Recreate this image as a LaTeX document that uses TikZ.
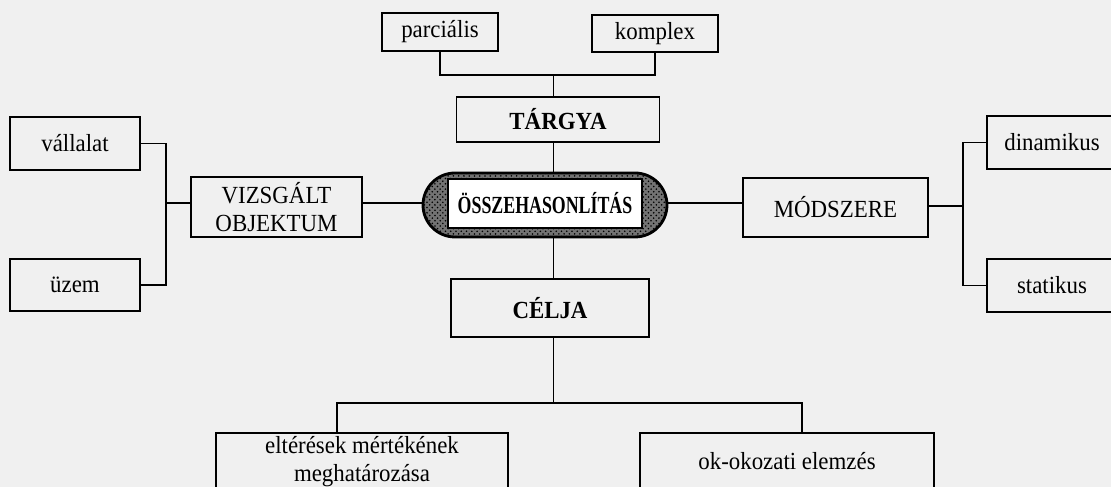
\documentclass[tikz,border=0pt]{standalone}
\usepackage{fontspec, graphicx}
\setmainfont{Liberation Serif}[FakeStretch=0.93]
\usetikzlibrary{patterns}
\definecolor{paper}{RGB}{240,240,240}

\begin{document}
\begin{tikzpicture}
        [line width=0.8pt, every node/.style={draw,shape=rectangle,inner sep=0,align=center,font=\fontsize{14}{15.5}\selectfont},
         pillbox/.style={line width=1.6pt,rounded corners=0.64cm,preaction={fill=black!55},pattern=crosshatch dots}]

        \useasboundingbox (0, 0) rectangle (22.22, 9.74);
        \fill[paper] (0, 0) rectangle (22.22, 9.74);

        \node[minimum width=2.32cm, minimum height=0.76cm] (parcialis) at (8.8, 9.1) {parciális};
        \node[minimum width=2.52cm, minimum height=0.74cm] (komplex) at (13.1, 9.07) {komplex};
        \node[minimum width=4.06cm, minimum height=0.9cm] (targya) at (11.16, 7.35) {\textbf{TÁRGYA}};
        \node[minimum width=2.6cm, minimum height=1.06cm] (vallalat) at (1.5, 6.87) {vállalat};
        \node[minimum width=2.6cm, minimum height=1.04cm] (uzem) at (1.5, 4.04) {üzem};
        \node[minimum width=3.42cm, minimum height=1.2cm] (vizsgalt) at (5.53, 5.6) {VIZSGÁLT\\OBJEKTUM};
        \node[pillbox, minimum width=4.88cm, minimum height=1.28cm] (pill) at (10.9, 5.64) {};
        \node[fill=white, minimum width=3.88cm, minimum height=0.98cm] (osszehas) at (10.9, 5.67) {\scalebox{0.78}[1]{\bfseries ÖSSZEHASONLÍTÁS}};
        \node[minimum width=3.7cm, minimum height=1.18cm] (modszere) at (16.71, 5.59) {MÓDSZERE};
        \node[minimum width=2.6cm, minimum height=1.06cm] (dinamikus) at (21.04, 6.89) {dinamikus};
        \node[minimum width=2.6cm, minimum height=1.06cm] (statikus) at (21.04, 4.03) {statikus};
        \node[minimum width=3.96cm, minimum height=1.16cm] (celja) at (11.0, 3.58) {\textbf{CÉLJA}};
        \node[minimum width=5.84cm, minimum height=1.14cm] (elteresek) at (7.24, 0.51) {eltérések mértékének\\meghatározása};
        \node[minimum width=5.88cm, minimum height=1.14cm] (okokozati) at (15.74, 0.51) {ok-okozati elemzés};

        \coordinate (trunk) at (11.07, 0);
        \coordinate (tj) at (11.07, 8.24);
        \coordinate (lj) at (3.32, 5.68);
        \coordinate (rj) at (19.26, 5.62);
        \coordinate (bj) at (11.07, 1.68);
        \coordinate (bl) at (6.74, 1.68);
        \coordinate (br) at (16.04, 1.68);

        \draw (parcialis.south) |- (tj) -| (komplex.south);
        \draw (tj) -- (targya.north -| tj);
        \draw (targya.south -| trunk) -- (pill.north -| trunk);
        \draw (vallalat.east) -| (lj) |- (uzem.east);
        \draw (lj) -- (lj -| vizsgalt.west);
        \draw (lj -| vizsgalt.east) -- (lj -| pill.west);
        \draw (lj -| pill.east) -- (lj -| modszere.west);
        \draw (modszere.east |- rj) -- (rj);
        \draw (dinamikus.west) -| (rj) |- (statikus.west);
        \draw (pill.south -| trunk) -- (celja.north -| trunk);
        \draw (celja.south -| bj) -- (bj);
        \draw (bl |- elteresek.north) -- (bl) -- (br) -- (br |- okokozati.north);

      \end{tikzpicture}
\end{document}
